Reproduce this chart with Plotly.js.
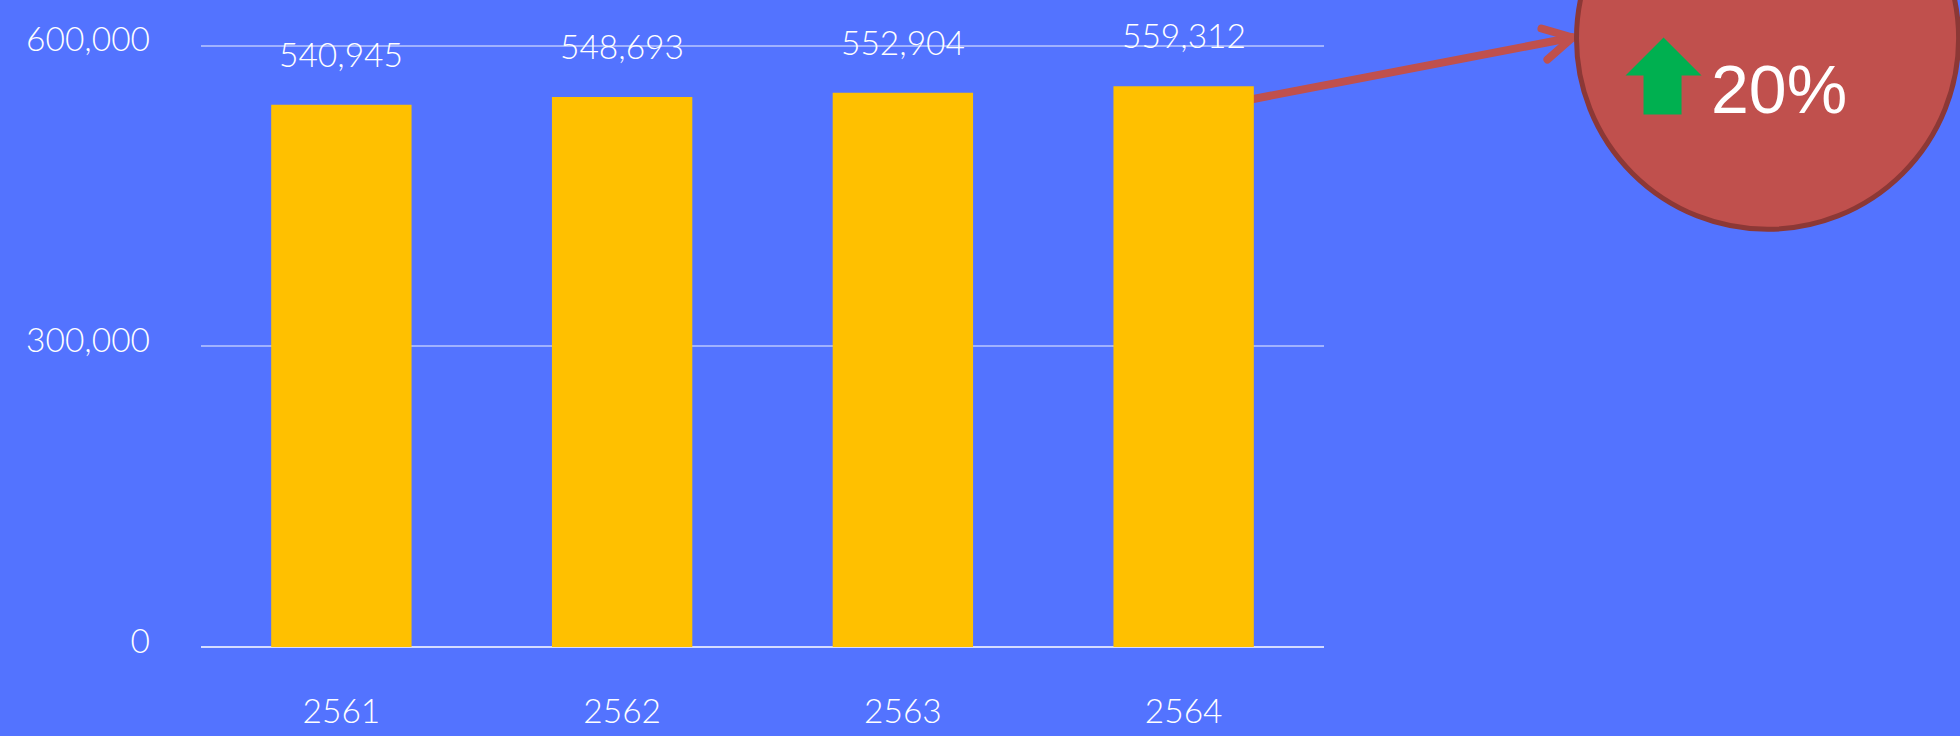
<!DOCTYPE html>
<html><head><meta charset="utf-8">
<script src="https://cdn.plot.ly/plotly-3.0.1.min.js"></script>
<style>html,body{margin:0;padding:0;background:#5373FF;overflow:hidden}
.shapelayer path{stroke-linecap:round;stroke-linejoin:round}</style>
</head><body><div id="chart" style="width:1960px;height:736px"></div>
<script>
const years = ['2561','2562','2563','2564'];
const students = [540945,548693,552904,559312];
const yTicks = [0,300000,600000];
const yTickLabels = ['0','300,000','600,000'];
const changeLabel = '20%';
const W=1960,H=736,L=201,R=1323.6,T=43.5,B=647;
const yMax=601500;
const px=x=>(x-L)/(R-L), py=y=>(B-y)/(B-T);
const pathOf=pts=>pts.map((p,i)=>(i?'L':'M')+px(p[0]).toFixed(5)+','+py(p[1]).toFixed(5)).join(' ');
const lineShape=(a,b,color,width,layer)=>({type:'line',layer:layer||'above',xref:'paper',yref:'paper',x0:px(a[0]),y0:py(a[1]),x1:px(b[0]),y1:py(b[1]),line:{color,width}});
const font='"Lato Light", Lato, sans-serif';
const fs=33.5;
const shapes=[
  lineShape([1240,101],[1572,37],'#C0504D',8,'below'),
  lineShape([1572,37],[1541,28],'#C0504D',8),
  lineShape([1572,37],[1547,59],'#C0504D',8),
  {type:'circle',xref:'paper',yref:'paper',x0:px(1576),x1:px(1958),y0:py(229),y1:py(-153),fillcolor:'#C0504D',line:{color:'#8C3836',width:5}},
  {type:'path',xref:'paper',yref:'paper',path:pathOf([[1663,37],[1701,75],[1681,75],[1681,114],[1643,114],[1643,75],[1625,75]])+' Z',fillcolor:'#00B050',line:{width:0}}
];
const annotations=years.map((y,i)=>({x:i,y:students[i],xref:'x',yref:'y',text:students[i].toLocaleString('en-US'),showarrow:false,yanchor:'bottom',yshift:29,font:{family:font,size:fs,color:'#fff'}}));
annotations.push({xref:'paper',yref:'paper',x:px(1778),y:py(89),text:changeLabel,showarrow:false,xanchor:'center',yanchor:'middle',font:{family:'"Liberation Sans", sans-serif',size:68,color:'#fff'}});
Plotly.newPlot('chart',[{type:'bar',x:years,y:students,marker:{color:'#FFC000',line:{width:0}},hoverinfo:'skip'}],{
  width:W,height:H,paper_bgcolor:'#5373FF',plot_bgcolor:'#5373FF',showlegend:false,bargap:0.5,
  margin:{l:L,r:W-R,t:T,b:H-B,pad:0},
  xaxis:{type:'category',range:[-0.5,3.5],showgrid:false,showline:false,zeroline:false,ticks:'',ticklabelstandoff:41,tickfont:{family:font,size:fs,color:'#fff'}},
  yaxis:{range:[0,yMax],tickvals:yTicks,ticktext:yTickLabels,ticks:'',ticklabelstandoff:50,ticklabelshift:-6,showline:false,gridcolor:'rgba(255,255,255,0.45)',gridwidth:2,zeroline:true,zerolinecolor:'rgba(255,255,255,0.75)',zerolinewidth:2.5,tickfont:{family:font,size:fs,color:'#fff'}},
  shapes,annotations
},{displayModeBar:false,staticPlot:true});
</script></body></html>
